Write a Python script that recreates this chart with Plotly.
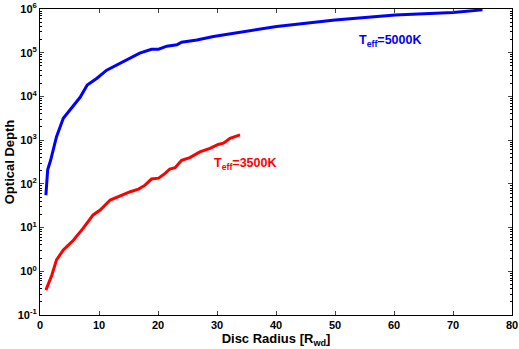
import plotly.graph_objects as go

# Teff = 5000K (blue)
r_5000 = [1.0, 1.3, 1.8, 2.8, 3.95, 5.1, 6.8, 8.0, 9.6, 11.3, 12.7, 13.8, 15.0, 16.9, 18.9,
          20.1, 21.5, 23.2, 24.0, 26.6, 29.4, 32.2, 40.1, 50.0, 57.6, 60.2, 70.0, 75.0]
logtau_5000 = [1.74, 2.32, 2.54, 3.08, 3.50, 3.70, 3.98, 4.26, 4.41, 4.60, 4.70, 4.76, 4.85, 4.99, 5.08,
               5.08, 5.15, 5.18, 5.24, 5.29, 5.37, 5.43, 5.60, 5.75, 5.83, 5.86, 5.92, 5.98]
tau_5000 = [10 ** v for v in logtau_5000]

# Teff = 3500K (red)
r_3500 = [1.0, 2.0, 2.8, 3.95, 5.65, 7.3, 9.0, 10.2, 11.9, 13.6, 15.3, 16.7, 17.8, 18.9, 20.1,
          21.2, 22.0, 22.9, 24.0, 25.4, 27.1, 28.8, 30.2, 31.1, 32.2, 33.9]
logtau_3500 = [-0.43, -0.09, 0.26, 0.49, 0.71, 0.98, 1.29, 1.40, 1.63, 1.73, 1.82, 1.88, 1.97, 2.11, 2.13,
               2.24, 2.34, 2.37, 2.54, 2.60, 2.73, 2.81, 2.90, 2.93, 3.04, 3.12]
tau_3500 = [10 ** v for v in logtau_3500]

x_ticks = [0, 10, 20, 30, 40, 50, 60, 70, 80]
y_exps = [-1, 0, 1, 2, 3, 4, 5, 6]
y_tickvals = [10.0 ** e for e in y_exps]
y_ticktext = [f"10<sup>{e}</sup>" for e in y_exps]
y_minor = [m * 10.0 ** e for e in y_exps[:-1] for m in range(2, 10)]

FONT = "Liberation Sans, Arial, sans-serif"

fig = go.Figure()
fig.add_trace(go.Scatter(x=r_5000, y=tau_5000, mode="lines",
                         line=dict(color="#0000ff", width=3), showlegend=False,
                         hoverinfo="skip"))
fig.add_trace(go.Scatter(x=r_3500, y=tau_3500, mode="lines",
                         line=dict(color="#ff0000", width=3), showlegend=False,
                         hoverinfo="skip"))

# annotation y on a log axis is given as log10 of the value
fig.add_annotation(x=59.3, y=5.27, xref="x", yref="y",
                   text="T<sub>eff</sub>=5000K", showarrow=False,
                   font=dict(family=FONT, size=12.5, color="#0000ff", weight="bold"))
fig.add_annotation(x=34.7, y=2.45, xref="x", yref="y",
                   text="T<sub>eff</sub>=3500K", showarrow=False,
                   font=dict(family=FONT, size=12.5, color="#ff0000", weight="bold"))

fig.update_layout(
    width=519, height=349,
    margin=dict(l=40, r=7, t=9, b=34, autoexpand=False),
    paper_bgcolor="white", plot_bgcolor="white",
    font=dict(family=FONT, color="black"),
    xaxis=dict(range=[0, 80], tickvals=x_ticks, ticks="inside", ticklen=4,
               showline=True, linecolor="black", linewidth=1, mirror="ticks",
               showgrid=False, zeroline=False, automargin=False,
               tickfont=dict(family=FONT, size=11, weight="bold"),
               title=dict(text="Disc Radius [R<sub>wd</sub>]", standoff=0,
                          font=dict(family=FONT, size=13, weight="bold"))),
    yaxis=dict(type="log", range=[-1, 6], tickvals=y_tickvals, ticktext=y_ticktext,
               ticks="inside", ticklen=4,
               showline=True, linecolor="black", linewidth=1, mirror="ticks",
               showgrid=False, zeroline=False, automargin=False,
               tickfont=dict(family=FONT, size=11, weight="bold"),
               title=dict(text="Optical Depth", standoff=0,
                          font=dict(family=FONT, size=13, weight="bold"))),
    yaxis2=dict(type="log", range=[-1, 6], overlaying="y", side="left",
                tickvals=y_minor, showticklabels=False,
                ticks="inside", ticklen=2, tickcolor="black",
                showline=False, mirror="ticks", showgrid=False, zeroline=False,
                automargin=False),
)
# invisible trace to activate the minor-tick axis
fig.add_trace(go.Scatter(x=[None], y=[None], yaxis="y2", showlegend=False,
                         hoverinfo="skip"))

fig.write_html("out.html", config={"displayModeBar": False},
               post_script="document.body.style.margin='0';")
